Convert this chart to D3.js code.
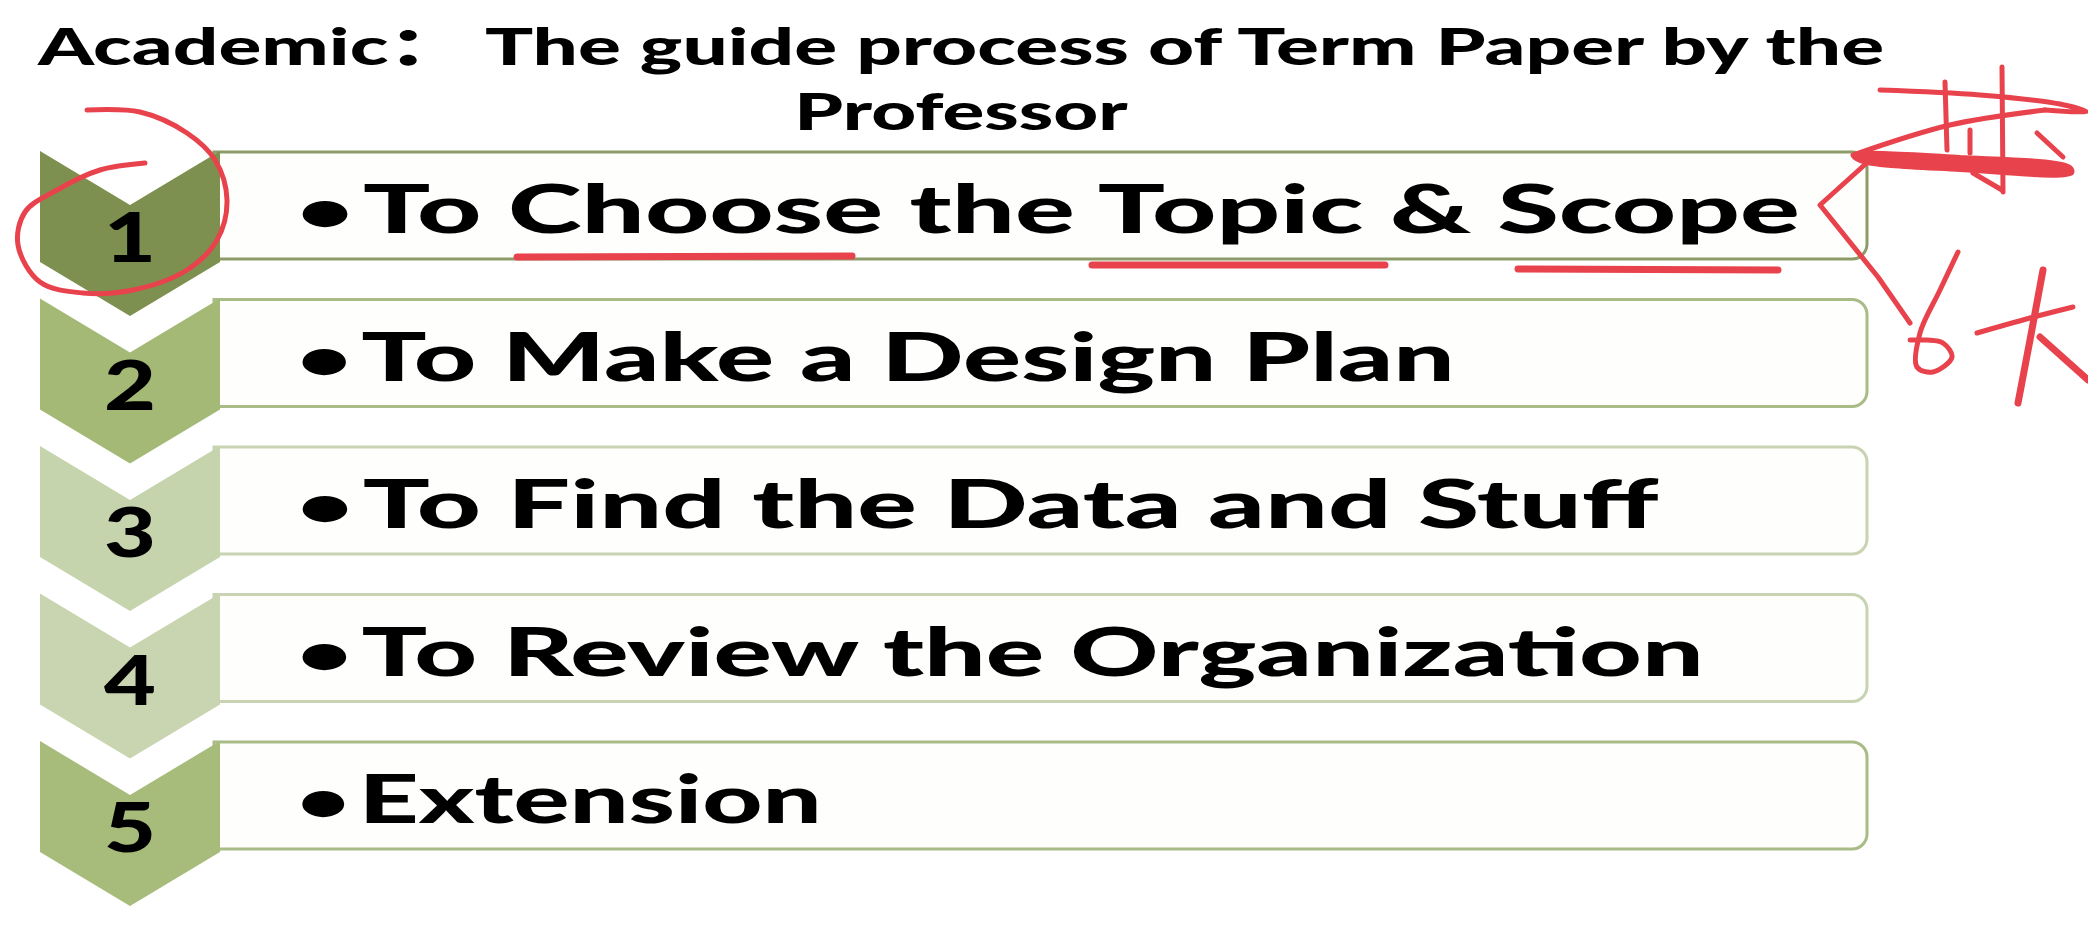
<!DOCTYPE html>
<html>
<head>
<meta charset="utf-8">
<script src="https://cdn.jsdelivr.net/npm/d3@7"></script>
<style>
  body { margin: 0; background: #fff; }
  text { font-family: Lato, "Noto Sans CJK SC", sans-serif; font-weight: 900; fill: #000; }
</style>
</head>
<body>
<svg id="chart"></svg>
<script>
// title lines
const titleLines = ["Academic\uFF1A The guide process of Term Paper by the", "Professor"];
const titleWidths = [1848, 334];

// process steps
const steps = ["1", "2", "3", "4", "5"];
const stepTexts = [
  "To Choose the Topic & Scope",
  "To Make a Design Plan",
  "To Find the Data and Stuff",
  "To Review the Organization",
  "Extension"
];
const stepTextWidths = [1503, 1158, 1363, 1407, 525];
const chevronColors = ["#7e904f", "#a4b975", "#c6d4ad", "#c8d5b0", "#a7bc7b"];
const boxStrokes = ["#8d9b68", "#a9bb87", "#c7d3b2", "#c7d3b2", "#a9bb87"];

// red handwritten notes on top of the slide
const noteCircle = [[87,110],[140,112],[187,133],[215,160],[227,200],[217,240],[187,270],[133,290],[83,293],[40,282],[18,245],[25,212],[57,190],[100,170],[145,163]];
const noteUnderlines = [
  [[517,257],[852,256]],
  [[1092,265],[1385,265]],
  [[1518,269],[1778,270]]
];
const noteStrokes = [
  [[1870,160],[1820,205],[1878,277],[1910,323]],                                             // bracket
  [[1958,252],[1940,290],[1920,333],[1917,367],[1933,372],[1952,357],[1943,343],[1927,340],[1910,340]], // 6
  [[1977,333],[2030,318],[2073,307]], [[2043,270],[2030,340],[2018,403]], [[2040,337],[2088,380]],  // 大
  [[1880,90],[1980,95],[2060,104],[2087,112],[2045,110]],                                   // 共
  [[2045,110],[1950,125],[1853,155]],
  [[1945,82],[1947,150]], [[1970,130],[1970,153]], [[2002,67],[2003,192]],
  [[1973,173],[2002,190]], [[2037,133],[2063,157]]
];
const noteHeavy = [[1853,155],[1960,157],[2070,167],[2072,173],[1960,170],[1860,161]];

const W = 2088, H = 928;
const svg = d3.select("#chart").attr("width", W).attr("height", H);

const boxH = 107, chevW = 180, notch = 54, sideH = 111, radius = 15;

var y = d3.scalePoint()
    .domain(steps)
    .range([152, 742]);

var x = d3.scaleLinear()
    .domain([0, 1])
    .range([220, 1867]);

// stretch a text sideways so it fills the width it has on the slide
function fitWidth(sel, widthOf, anchorX, baseY) {
    sel.each(function(d, i) {
        const len = this.getBBox().width;
        const sx = widthOf(d, i) / len;
        d3.select(this)
            .attr("transform", "translate(" + anchorX(d, i) + "," + baseY(d, i) + ") scale(" + sx + ",1)");
    });
}

// title
var title = svg.selectAll(".title")
    .data(titleLines)
    .enter()
  .append("text")
    .attr("class", "title")
    .attr("text-anchor", "middle")
    .attr("font-size", 52)
    .text(d => d);
fitWidth(title, (d, i) => titleWidths[i], () => 961, (d, i) => i === 0 ? 65 : 130);

var row = svg.selectAll(".row")
    .data(steps)
    .enter()
  .append("g")
    .attr("class", "row")
    .attr("transform", d => "translate(0," + y(d) + ")");

// text boxes: square on the left (under the chevron), rounded on the right
row.append("path")
    .attr("d", () => {
        const l = x(0) - 6, r = x(1);
        return "M" + l + ",0H" + (r - radius) +
               "A" + radius + "," + radius + " 0 0 1 " + r + "," + radius +
               "V" + (boxH - radius) +
               "A" + radius + "," + radius + " 0 0 1 " + (r - radius) + "," + boxH +
               "H" + l + "Z";
    })
    .style("fill", "#fefffc")
    .style("stroke", (d, i) => boxStrokes[i])
    .style("stroke-width", 3);

// chevrons
row.append("path")
    .attr("d", () => {
        const l = x(0) - chevW, r = x(0), m = (l + r) / 2, t = -1;
        return "M" + l + "," + t + "L" + m + "," + (t + notch) + "L" + r + "," + t +
               "L" + r + "," + (t + sideH) + "L" + m + "," + (t + sideH + notch) +
               "L" + l + "," + (t + sideH) + "Z";
    })
    .style("fill", (d, i) => chevronColors[i]);

var nums = row.append("text")
    .attr("text-anchor", "middle")
    .attr("font-size", 68)
    .text(d => d);
fitWidth(nums, () => 52, () => x(0) - chevW / 2, () => 110);

var labels = row.append("text")
    .attr("font-size", 67);
labels.append("tspan")
    .attr("font-size", 58)
    .attr("dy", -2)
    .text("\u2022");
labels.append("tspan")
    .attr("dx", 6)
    .attr("dy", 2)
    .text((d, i) => stepTexts[i]);
fitWidth(labels, (d, i) => stepTextWidths[i], () => 297, () => 81);

// handwritten notes
const red = "#e8434d";
var curve = d3.line().curve(d3.curveCatmullRom.alpha(0.5));
var notes = svg.append("g")
    .style("fill", "none")
    .style("stroke", red)
    .style("stroke-linecap", "round")
    .style("stroke-linejoin", "round");

notes.append("path")
    .attr("d", curve(noteCircle))
    .style("stroke-width", 5);

notes.selectAll(".ul")
    .data(noteUnderlines)
    .enter()
  .append("path")
    .attr("class", "ul")
    .attr("d", d => curve(d))
    .style("stroke-width", 7);

notes.selectAll(".hw")
    .data(noteStrokes)
    .enter()
  .append("path")
    .attr("class", "hw")
    .attr("d", (d, i) => i === 0 ? d3.line()(d) : curve(d))
    .style("stroke-width", (d, i) => i === 3 || i === 4 ? 7 : 5);

notes.append("path")
    .attr("d", d3.line().curve(d3.curveCatmullRomClosed)(noteHeavy))
    .style("fill", red)
    .style("stroke-width", 4);
</script>
</body>
</html>
